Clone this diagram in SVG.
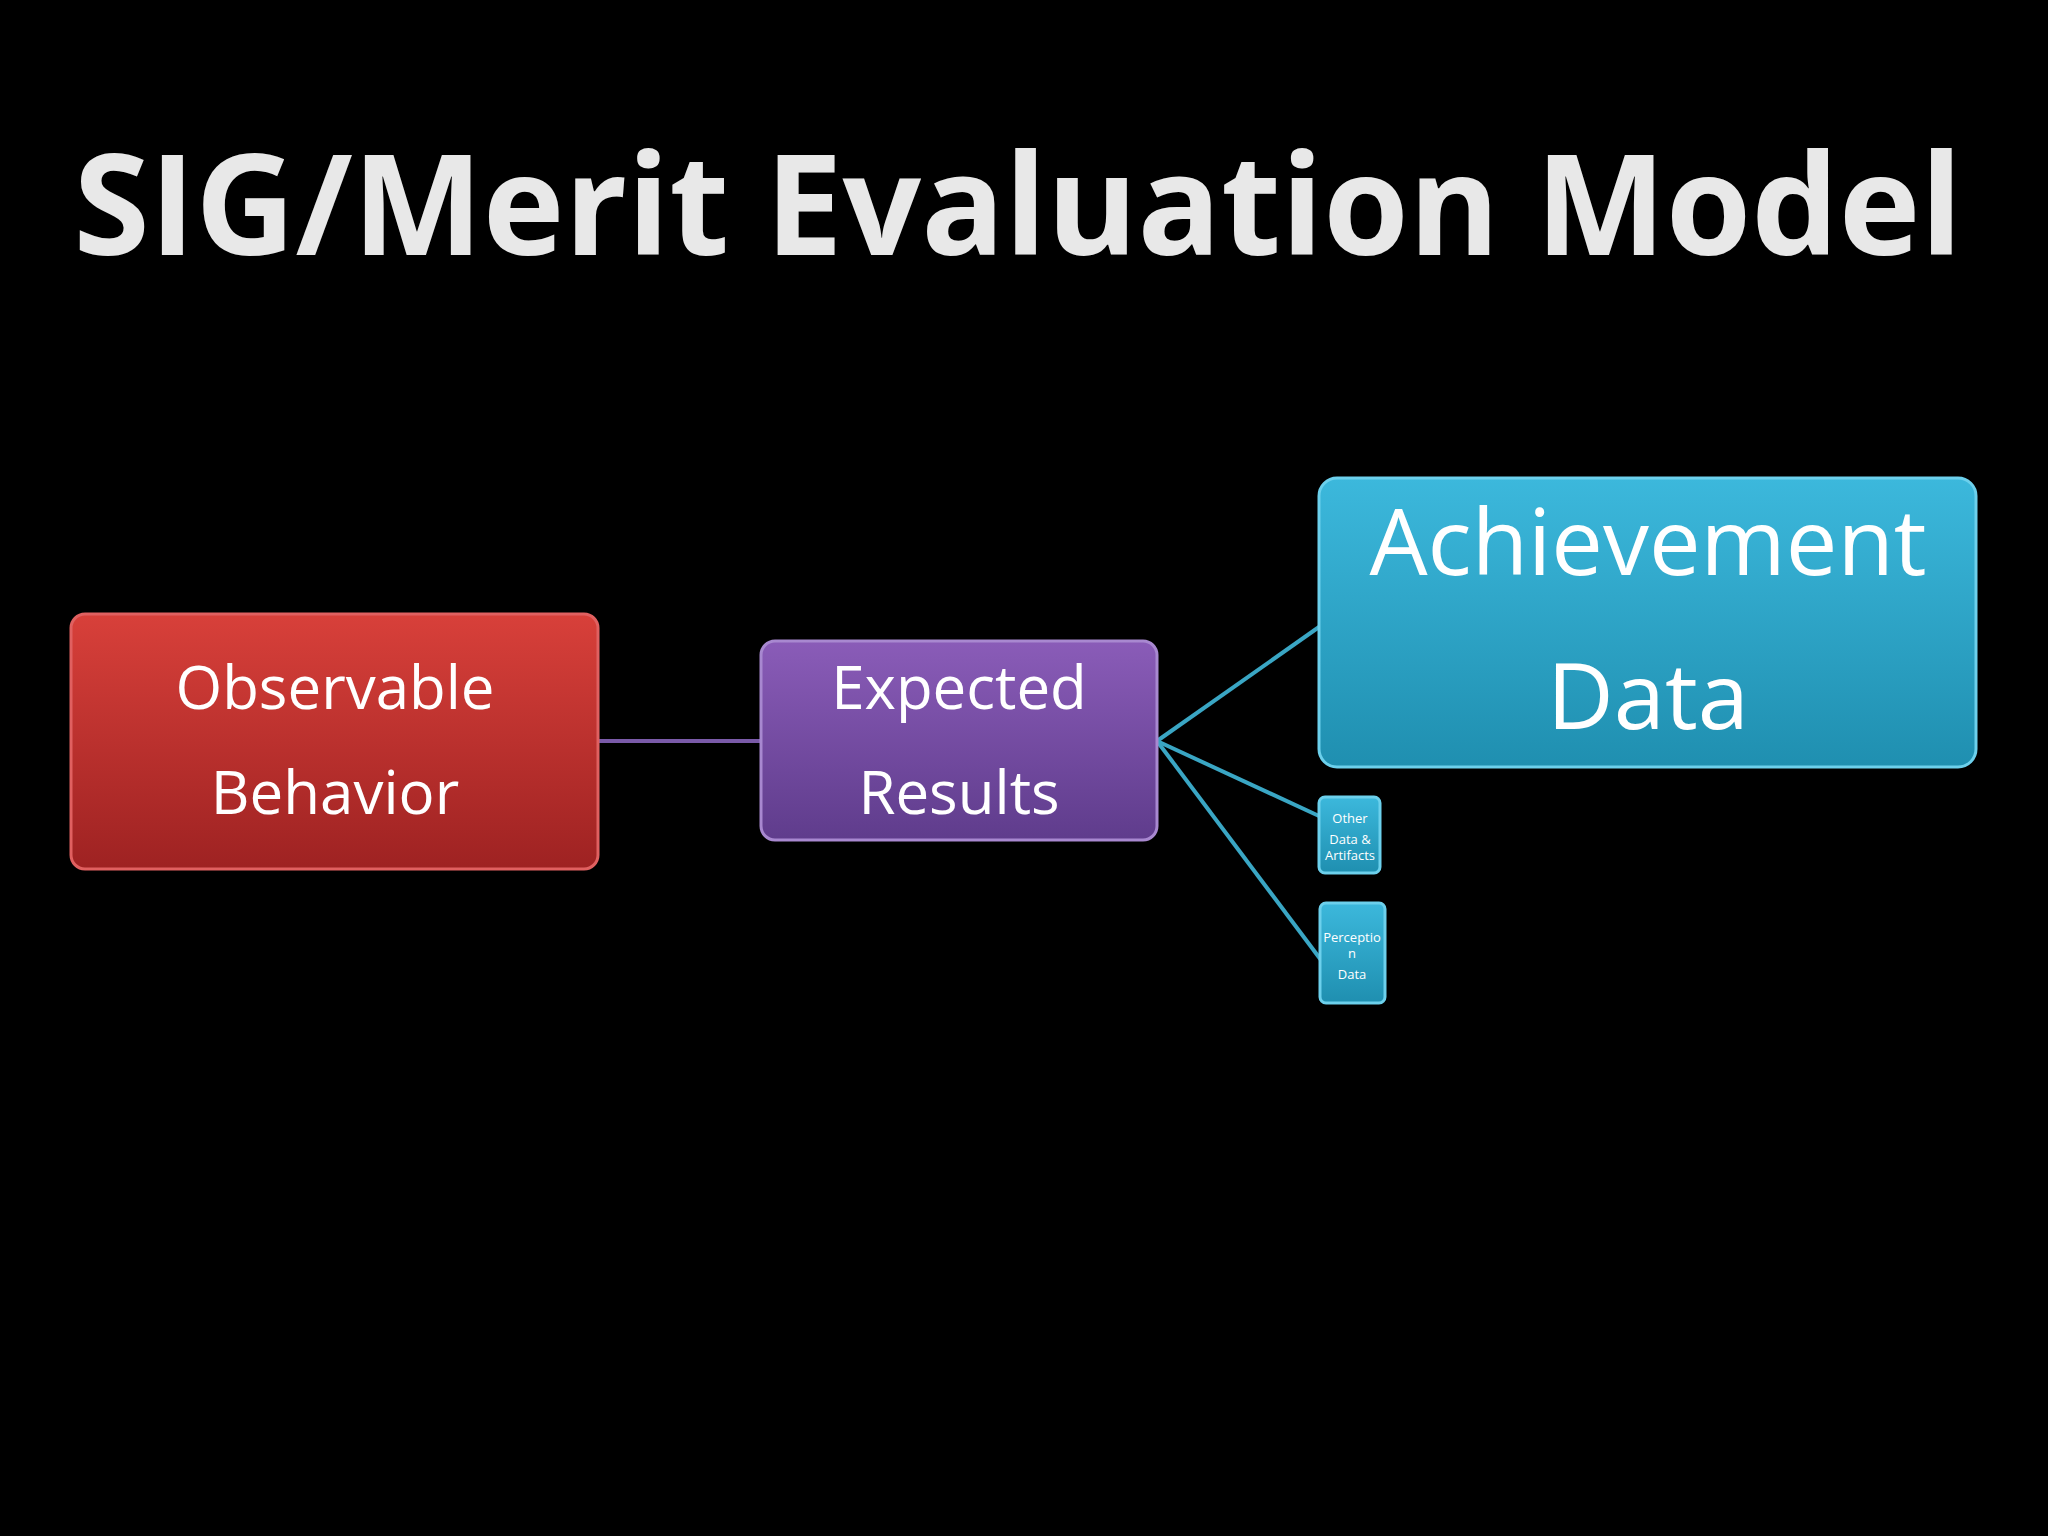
<svg xmlns="http://www.w3.org/2000/svg" width="2048" height="1536" viewBox="0 0 2048 1536">
<defs>
<linearGradient id="red" x1="0" y1="0" x2="0" y2="1"><stop offset="0" stop-color="#d8403a"/><stop offset="1" stop-color="#9e2222"/></linearGradient>
<linearGradient id="pur" x1="0" y1="0" x2="0" y2="1"><stop offset="0" stop-color="#8a5cb8"/><stop offset="1" stop-color="#5f3c8c"/></linearGradient>
<linearGradient id="cy" x1="0" y1="0" x2="0" y2="1"><stop offset="0" stop-color="#3cb8dc"/><stop offset="1" stop-color="#1f8fb0"/></linearGradient>
<style>
.t{font-family:"Open Sans","Liberation Sans",sans-serif;fill:#fff;text-anchor:middle}
.b{stroke-width:3}
</style>
</defs>
<rect width="2048" height="1536" fill="#000"/>
<text x="1018" y="255" font-family="Open Sans, Liberation Sans, sans-serif" font-weight="bold" font-size="140" fill="#e8e8e8" text-anchor="middle" textLength="1889" lengthAdjust="spacingAndGlyphs">SIG/Merit Evaluation Model</text>
<g id="connectors" stroke-width="4" fill="none">
<line x1="598" y1="741" x2="761" y2="741" stroke="#7a5aa8"/>
<g stroke="#3aa6c4"><line x1="1157" y1="741" x2="1319" y2="627"/><line x1="1157" y1="741" x2="1319" y2="816"/><line x1="1157" y1="741" x2="1321" y2="960"/></g>
</g>
<g id="observable"><rect x="71" y="614" width="527" height="255" rx="14" fill="url(#red)" stroke="#e06060" class="b"/><text class="t" font-size="60" x="335" y="709">Observable</text><text class="t" font-size="60" x="335" y="814">Behavior</text></g>
<g id="expected"><rect x="761" y="641" width="396" height="199" rx="14" fill="url(#pur)" stroke="#a888d0" class="b"/><text class="t" font-size="60" x="959" y="709">Expected</text><text class="t" font-size="60" x="959" y="814">Results</text></g>
<g id="achievement"><rect x="1319" y="478" width="657" height="289" rx="18" fill="url(#cy)" stroke="#6cd0ec" class="b"/><text class="t" font-size="92" x="1648" y="575">Achievement</text><text class="t" font-size="92" x="1648" y="729">Data</text></g>
<g id="other"><rect x="1319" y="797" width="61" height="76" rx="6" fill="url(#cy)" stroke="#6cd0ec" class="b"/><text class="t" font-size="13" x="1350" y="823">Other</text><text class="t" font-size="13" x="1350" y="844">Data &amp;</text><text class="t" font-size="13" x="1350" y="860">Artifacts</text></g>
<g id="perception"><rect x="1320" y="903" width="65" height="100" rx="6" fill="url(#cy)" stroke="#6cd0ec" class="b"/><text class="t" font-size="13" x="1352" y="942">Perceptio</text><text class="t" font-size="13" x="1352" y="958">n</text><text class="t" font-size="13" x="1352" y="979">Data</text></g>
</svg>
